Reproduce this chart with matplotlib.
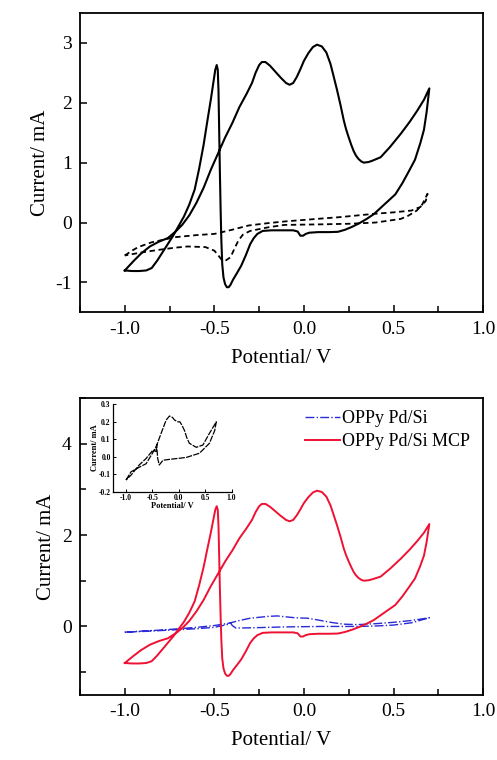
import matplotlib
matplotlib.use("Agg")
import matplotlib.pyplot as plt
from matplotlib.ticker import MultipleLocator

plt.rcParams['font.family'] = ['Liberation Serif', 'DejaVu Serif']

# CV of OPPy Pd/Si MCP (mA), closed loop starting at -1.0 V
mcp_v = [-1.00, -0.96, -0.92, -0.88, -0.85, -0.82, -0.79, -0.76, -0.73, -0.70,
         -0.67, -0.64, -0.61, -0.585, -0.56, -0.54, -0.52, -0.505, -0.495, -0.487,
         -0.481, -0.477, -0.473, -0.469, -0.465, -0.461, -0.456, -0.449, -0.44, -0.43,
         -0.42, -0.41, -0.395, -0.375, -0.35, -0.325, -0.30, -0.28, -0.26, -0.23,
         -0.18, -0.12, -0.06, -0.035, -0.02, -0.005, 0.01, 0.03, 0.08, 0.14,
         0.19, 0.23, 0.27, 0.31, 0.35, 0.39, 0.43, 0.47, 0.51, 0.55,
         0.59, 0.62, 0.65, 0.67, 0.685, 0.70,
         0.67, 0.633, 0.59, 0.54, 0.48, 0.428, 0.38, 0.36, 0.334, 0.32,
         0.305, 0.29, 0.278, 0.265, 0.25, 0.235, 0.222, 0.205, 0.185, 0.165,
         0.148, 0.125, 0.10, 0.073, 0.05, 0.025, 0.00, -0.02, -0.04, -0.06,
         -0.08, -0.10, -0.13, -0.16, -0.19, -0.215, -0.235, -0.25, -0.27, -0.29,
         -0.32, -0.36, -0.40, -0.44, -0.48, -0.52, -0.56, -0.60, -0.64, -0.68,
         -0.72, -0.76, -0.81, -0.86, -0.91, -0.95, -1.00]
mcp_i = [-0.80, -0.81, -0.81, -0.80, -0.76, -0.64, -0.50, -0.36, -0.22, -0.06,
         0.10, 0.30, 0.55, 0.90, 1.30, 1.68, 2.05, 2.35, 2.55, 2.63,
         2.55, 2.20, 1.50, 0.80, 0.20, -0.30, -0.70, -0.92, -1.03, -1.08,
         -1.08, -1.04, -0.95, -0.85, -0.72, -0.55, -0.36, -0.26, -0.19, -0.14,
         -0.13, -0.13, -0.13, -0.15, -0.22, -0.22, -0.19, -0.17, -0.16, -0.16,
         -0.155, -0.12, -0.07, -0.01, 0.06, 0.14, 0.25, 0.36, 0.47, 0.66,
         0.88, 1.05, 1.33, 1.55, 1.85, 2.24,
         2.05, 1.87, 1.68, 1.48, 1.26, 1.09, 1.03, 1.01, 1.00, 1.02,
         1.06, 1.12, 1.19, 1.29, 1.42, 1.56, 1.71, 1.95, 2.21, 2.45,
         2.65, 2.84, 2.94, 2.97, 2.93, 2.83, 2.70, 2.56, 2.43, 2.33,
         2.30, 2.33, 2.42, 2.52, 2.62, 2.68, 2.68, 2.63, 2.50, 2.33,
         2.15, 1.93, 1.66, 1.42, 1.15, 0.88, 0.58, 0.33, 0.12, -0.04,
         -0.16, -0.26, -0.32, -0.40, -0.52, -0.64, -0.80]

# dashed reference CV in the upper panel
ref_v = [-1.00, -0.96, -0.925, -0.85, -0.72, -0.60, -0.50, -0.40, -0.31, -0.20,
         -0.10, 0.07, 0.20, 0.39, 0.50, 0.60, 0.65, 0.68, 0.69,
         0.66, 0.63, 0.58, 0.54, 0.40, 0.26, 0.10, -0.11, -0.20, -0.30,
         -0.34, -0.366, -0.39, -0.41, -0.435, -0.46, -0.48, -0.50, -0.55, -0.65,
         -0.72, -0.82, -0.907, -1.00]
ref_i = [-0.55, -0.47, -0.41, -0.33, -0.245, -0.21, -0.19, -0.12, -0.05, -0.01,
         0.02, 0.06, 0.09, 0.145, 0.17, 0.20, 0.26, 0.36, 0.48,
         0.30, 0.20, 0.11, 0.06, 0.00, -0.02, -0.03, -0.04, -0.08, -0.14,
         -0.20, -0.30, -0.45, -0.58, -0.63, -0.62, -0.54, -0.47, -0.41, -0.40,
         -0.42, -0.46, -0.50, -0.55]

# OPPy Pd/Si (mA)
pdsi_v = [-1.00, -0.90, -0.80, -0.70, -0.60, -0.50, -0.42, -0.36, -0.30, -0.20,
          -0.15, -0.10, -0.05, 0.02, 0.08, 0.15, 0.22, 0.30, 0.40, 0.50,
          0.60, 0.70,
          0.60, 0.50, 0.40, 0.30, 0.10, -0.10, -0.30, -0.38, -0.40, -0.41,
          -0.43, -0.50, -0.60, -0.70, -0.80, -0.90, -1.00]
pdsi_i = [-0.125, -0.10, -0.08, -0.05, -0.02, 0.02, 0.07, 0.13, 0.18, 0.22,
          0.23, 0.21, 0.19, 0.18, 0.14, 0.09, 0.05, 0.04, 0.06, 0.09,
          0.13, 0.19,
          0.08, 0.03, 0.01, 0.00, 0.00, -0.01, -0.03, -0.035, 0.02, 0.08,
          0.04, -0.02, -0.05, -0.07, -0.09, -0.11, -0.125]

# inset: OPPy Pd/Si enlarged
ins_v = [-1.00, -0.905, -0.75, -0.62, -0.50, -0.43, -0.335, -0.24, -0.177, -0.12,
         -0.08, -0.019, 0.02, 0.06, 0.108, 0.15, 0.20, 0.33, 0.456, 0.58,
         0.71,
         0.68, 0.58, 0.39, 0.14, -0.177, -0.30, -0.37, -0.40, -0.42, -0.43,
         -0.49, -0.62, -0.75, -0.905, -1.00]
ins_i = [-0.133, -0.086, -0.06, -0.04, 0.02, 0.057, 0.134, 0.21, 0.233, 0.225,
         0.21, 0.20, 0.20, 0.18, 0.15, 0.11, 0.077, 0.054, 0.067, 0.134,
         0.20,
         0.15, 0.077, 0.02, -0.004, -0.015, -0.02, -0.047, -0.01, 0.07, 0.03,
         0.038, -0.01, -0.047, -0.105, -0.133]

xticks = [-1.0, -0.5, 0.0, 0.5, 1.0]
xlabels = ['-1.0', '-0.5', '0.0', '0.5', '1.0']


def style_axes(ax, fs=14):
    for sp in ax.spines.values():
        sp.set_linewidth(1.3)
    ax.set_xlim(-1.25, 1.0)
    ax.set_xticks(xticks)
    ax.set_xticklabels(xlabels)
    ax.xaxis.set_minor_locator(MultipleLocator(0.25))
    ax.tick_params(which='both', direction='in', top=False, right=False,
                   labelsize=fs, width=1.1, pad=6)
    ax.tick_params(which='major', length=5)
    ax.tick_params(which='minor', length=4)
    ax.set_xlabel('Potential/ V', fontsize=15, labelpad=8)
    ax.set_ylabel('Current/ mA', fontsize=15, labelpad=4)


fig = plt.figure(figsize=(4.97, 7.6), dpi=100)

# upper panel
ax1 = fig.add_axes([0.161, 0.589, 0.811, 0.394])
ax1.plot(mcp_v, mcp_i, color='black', lw=1.5)
ax1.plot(ref_v, ref_i, color='black', lw=1.3, ls=(0, (3, 2)))
style_axes(ax1)
ax1.set_ylim(-1.5, 3.5)
ax1.set_yticks([-1, 0, 1, 2, 3])
ax1.set_yticklabels(['-1', '0', '1', '2', '3'])

# lower panel
ax2 = fig.add_axes([0.161, 0.0855, 0.811, 0.391])
ax2.plot(pdsi_v, pdsi_i, color='#2b2bd6', lw=1.0, ls='-.', label='OPPy Pd/Si')
ax2.plot(mcp_v, mcp_i, color='#ee1133', lw=1.4, label='OPPy Pd/Si MCP')
style_axes(ax2)
ax2.set_ylim(-1.5, 5.0)
ax2.set_yticks([0, 2, 4])
ax2.set_yticklabels(['0', '2', '4'])
ax2.yaxis.set_minor_locator(MultipleLocator(1))
ax2.legend(loc='upper right', frameon=False, fontsize=13, handlelength=1.9,
           handletextpad=0.15, labelspacing=0.3, borderaxespad=0.3,
           bbox_to_anchor=(1.0, 1.0))

# inset
ax3 = fig.add_axes([0.227, 0.353, 0.239, 0.115])
ax3.plot(ins_v, ins_i, color='black', lw=0.9, ls=(0, (5, 1)))
ax3.set_xlim(-1.25, 1.0)
ax3.set_ylim(-0.2, 0.3)
ax3.set_xticks(xticks)
ax3.set_xticklabels(xlabels)
ax3.set_yticks([-0.2, -0.1, 0.0, 0.1, 0.2, 0.3])
ax3.set_yticklabels(['-0.2', '-0.1', '0.0', '0.1', '0.2', '0.3'])
ax3.spines['top'].set_visible(False)
ax3.spines['right'].set_visible(False)
for s in ['left', 'bottom']:
    ax3.spines[s].set_linewidth(0.9)
ax3.tick_params(direction='in', labelsize=5.5, length=2, width=0.7, pad=1.5)
ax3.set_xlabel('Potential/ V', fontsize=6, labelpad=0, fontweight='bold')
ax3.set_ylabel('Current/ mA', fontsize=6, labelpad=0, fontweight='bold')
for lab in ax3.get_xticklabels() + ax3.get_yticklabels():
    lab.set_fontweight('bold')

fig.savefig('out.png', dpi=100)
